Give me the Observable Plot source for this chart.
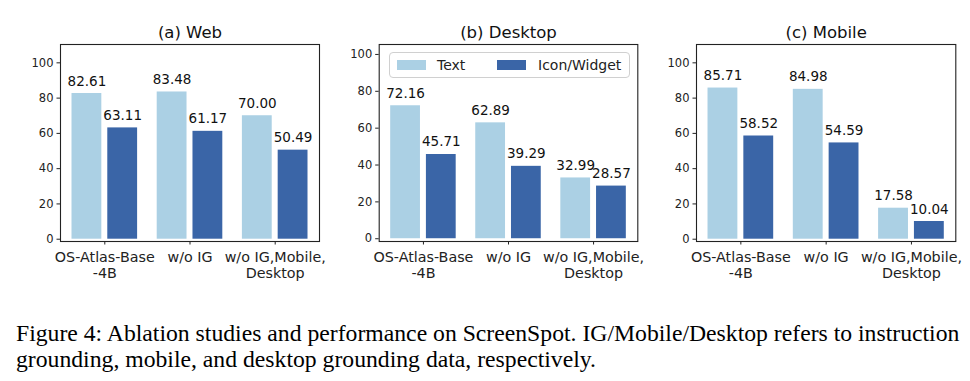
<!DOCTYPE html>
<html>
<head>
<meta charset="utf-8">
<script src="https://cdn.jsdelivr.net/npm/d3@7"></script>
<script src="https://cdn.jsdelivr.net/npm/@observablehq/plot@0.6"></script>
<style>
  html, body { margin: 0; padding: 0; background: #fff; }
  #root { position: relative; width: 970px; height: 381px; overflow: hidden; font-family: "DejaVu Sans", sans-serif; }
  .panel { position: absolute; top: 0; overflow: visible; }
  .legend { position: absolute; box-sizing: border-box; border: 1px solid #d0d0d0; border-radius: 4px; background: rgba(255,255,255,0.85); font: 14px "DejaVu Sans", sans-serif; color: #222; }
  .legend .sw { position: absolute; width: 29px; height: 10px; }
  .legend .lb { position: absolute; line-height: 16px; white-space: nowrap; }
  .caption { position: absolute; left: 16px; top: 319.5px; font-family: "Liberation Serif", "Times New Roman", serif; font-size: 23.7px; line-height: 26px; color: #000; white-space: nowrap; }
</style>
</head>
<body>
<div id="root"></div>
<script>
// ---- data ----
const categories = ["OS-Atlas-Base\n-4B", "w/o IG", "w/o IG,Mobile,\nDesktop"];
const series = ["Text", "Icon/Widget"];
const panelTitles = ["(a) Web", "(b) Desktop", "(c) Mobile"];
const textScores = [
  [82.61, 83.48, 70.00],   // Web
  [72.16, 62.89, 32.99],   // Desktop
  [85.71, 84.98, 17.58]    // Mobile
];
const iconScores = [
  [63.11, 61.17, 50.49],
  [45.71, 39.29, 28.57],
  [58.52, 54.59, 10.04]
];
const yTicks = [0, 20, 40, 60, 80, 100];
const captionLines = [
  "Figure 4: Ablation studies and performance on ScreenSpot. IG/Mobile/Desktop refers to instruction",
  "grounding, mobile, and desktop grounding data, respectively."
];

// ---- styling / layout ----
const colors = {"Text": "#abd0e4", "Icon/Widget": "#3a65a7"};
const yDomains = [[-1.3, 110.4], [-1.5, 105.4], [-1.3, 110.4]];
const layout = [
  {left: 0,   width: 325, marginLeft: 60,   marginRight: 6},
  {left: 320, width: 322, marginLeft: 58.7, marginRight: 4.7},
  {left: 641, width: 329, marginLeft: 55,   marginRight: 14.7}
];
const barHalf = 0.175, groupOffset = 0.21;

const root = document.getElementById("root");

panelTitles.forEach((title, p) => {
  const rows = [];
  categories.forEach((c, i) => {
    rows.push({i, s: "Text", v: textScores[p][i]});
    rows.push({i, s: "Icon/Widget", v: iconScores[p][i]});
  });
  const off = d => d.i + (d.s === "Text" ? -groupOffset : groupOffset);
  const L = layout[p];
  const chart = Plot.plot({
    width: L.width,
    height: 290,
    marginLeft: L.marginLeft,
    marginRight: L.marginRight,
    marginTop: 44,
    marginBottom: 49,
    style: {fontFamily: "DejaVu Sans, sans-serif", color: "#222", background: "transparent", overflow: "visible"},
    x: {domain: [-0.52, 2.52]},
    y: {domain: yDomains[p]},
    color: {domain: series, range: series.map(s => colors[s])},
    marks: [
      Plot.rectY(rows, {
        x1: d => off(d) - barHalf,
        x2: d => off(d) + barHalf,
        y1: 0,
        y2: "v",
        fill: "s"
      }),
      Plot.text(rows, {
        x: off,
        y: "v",
        text: d => d.v.toFixed(2),
        lineAnchor: "bottom",
        dy: -8,
        fontSize: 13.5,
        fill: "#111"
      }),
      Plot.frame({stroke: "#222", strokeWidth: 1.1}),
      Plot.axisY({
        ticks: yTicks,
        tickSize: 3.5,
        tickPadding: 3.5,
        fontSize: 11.5,
        label: null,
        stroke: "#222"
      }),
      Plot.axisX({
        ticks: [0, 1, 2],
        tickFormat: i => categories[i],
        tickSize: 3.5,
        tickPadding: 5.5,
        fontSize: 14.3,
        lineHeight: 1.13,
        label: null,
        stroke: "#222"
      }),
      Plot.text([title], {
        frameAnchor: "top",
        text: d => d,
        dy: -12,
        lineAnchor: "middle",
        fontSize: 16.5,
        fill: "#111"
      })
    ]
  });
  chart.classList.add("panel");
  chart.style.left = L.left + "px";
  root.appendChild(chart);
});

// legend in panel (b)
const legend = document.createElement("div");
legend.className = "legend";
Object.assign(legend.style, {left: "389px", top: "52px", width: "241px", height: "26px"});
const legendPos = [{sw: 7, lb: 47}, {sw: 106.5, lb: 148}];
series.forEach((s, k) => {
  const sw = document.createElement("div");
  sw.className = "sw";
  sw.style.left = legendPos[k].sw + "px";
  sw.style.top = "7px";
  sw.style.background = colors[s];
  legend.appendChild(sw);
  const lb = document.createElement("div");
  lb.className = "lb";
  lb.style.left = legendPos[k].lb + "px";
  lb.style.top = "4px";
  lb.textContent = s;
  legend.appendChild(lb);
});
root.appendChild(legend);

// caption
const cap = document.createElement("div");
cap.className = "caption";
cap.innerHTML = captionLines.map(l => `<div>${l}</div>`).join("");
root.appendChild(cap);
</script>
</body>
</html>
